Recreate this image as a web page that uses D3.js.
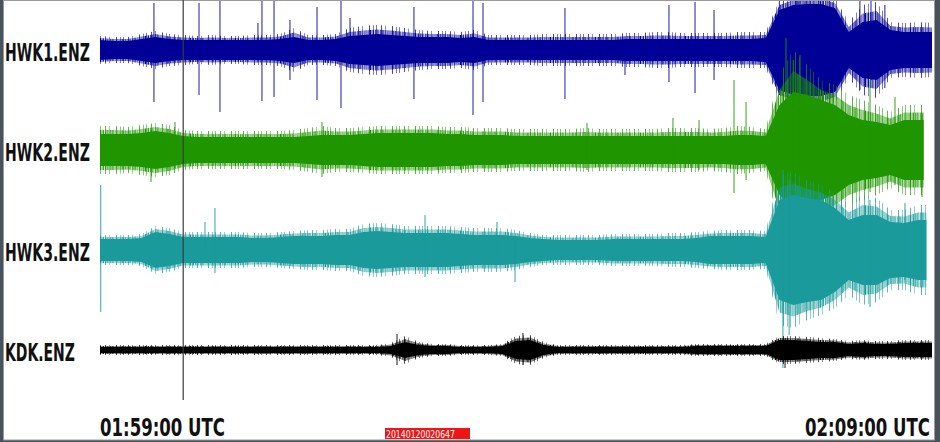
<!DOCTYPE html>
<html>
<head>
<meta charset="utf-8">
<script src="https://cdn.jsdelivr.net/npm/d3@7"></script>
<style>
  html, body { margin: 0; padding: 0; background: #46535c; }
  svg { display: block; }
</style>
</head>
<body>
<svg width="940" height="442"></svg>
<script>
// ---- data (amplitudes are relative units, seconds after 01:59:00 UTC) ----
var stations = ["HWK1.ENZ", "HWK2.ENZ", "HWK3.ENZ", "KDK.ENZ"];
var traceColors = ["#000096", "#1f9600", "#1a9a9a", "#000000"];
var traceEnd = [600, 594, 596, 600];
var timeLabels = ["01:59:00 UTC", "02:09:00 UTC"];
var fileTag = "20140120020647";

// envelope every 10 s: solid core half-width and outer (peak) half-width
var hwk1Core = [10,9,9,11,13,11,10,10,10,10,10,10,10,11,13,10,10,11,14,15,16,15,14,13,13,13,12,13,10,10,10,10,10,10,10,10,10,10,11,11,11,11,11,11,11,11,11,11,12,40,45,46,46,42,18,28,30,20,18,18,18];
var hwk1Peak = [14,13,13,16,19,16,15,14,15,14,14,15,15,16,22,15,15,16,22,24,25,24,22,20,19,19,18,20,15,15,15,15,16,16,16,16,16,16,17,17,18,18,17,17,17,17,18,18,18,50,55,57,57,52,28,45,48,28,27,28,27];
var hwk2Core = [16,16,16,17,19,17,14,13,13,13,13,13,13,13,13,14,15,15,15,16,17,17,17,17,17,16,16,15,15,15,14,14,14,14,14,14,14,14,14,14,14,14,14,14,14,14,15,15,14,45,58,55,50,45,35,30,28,25,30,30,30];
var hwk2Peak = [24,24,23,25,27,25,20,19,19,19,19,19,19,19,20,22,24,22,22,23,24,24,24,24,24,23,23,22,22,22,21,21,21,21,21,22,21,21,21,21,21,22,22,22,21,22,24,23,21,75,100,85,70,65,55,50,45,38,45,45,45];
var hwk3Core = [11,11,11,12,18,16,13,13,13,13,13,12,12,13,14,14,14,15,15,18,19,18,17,17,17,17,16,15,15,15,14,12,11,10,10,10,10,11,11,11,11,11,11,12,14,14,14,14,13,50,55,52,50,42,30,35,35,28,27,30,30];
var hwk3Peak = [15,15,15,16,24,22,18,18,18,18,18,17,17,18,19,20,20,21,21,26,27,26,24,24,24,24,23,22,22,22,20,17,15,15,15,15,15,16,16,16,16,17,17,18,19,20,20,20,19,75,78,70,65,58,45,55,52,40,40,45,45];
var kdkCore = [3,3,3,3,3,3,3,3,3,3,3,3,3,3,3,3,3,3,3,3,3,4,8,5,4,4,3,3,3,4,9,10,5,3,3,3,3,3,3,3,3,3,3,4,4,4,4,4,4,10,10,9,8,8,6,7,6,6,7,7,7];
var kdkPeak = [5,5,5,5,5,5,5,5,5,5,5,5,5,5,5,5,5,5,5,5,5,7,14,8,6,6,5,5,5,6,14,15,8,5,5,5,5,5,5,5,5,5,5,6,6,6,6,6,6,14,14,13,12,11,9,10,9,9,10,10,10];

// isolated spikes: [seconds, up, down]
var hwk1Spikes = [[38.9,47,52],[71.4,47,45],[86.5,50,62],[113.9,27,0],[116.8,49,51],[125.5,49,47],[137,30,30],[156.5,43,50],[173.8,55,58],[180.3,32,0],[226.4,43,49],[269,55,65],[276.2,47,52],[335.3,42,49],[378.6,0,25],[410.3,45,32],[429.1,48,43],[442.8,40,30],[490,55,45],[502,55,50],[548,55,40],[556,55,30],[566,45,38]];
var hwk2Spikes = [[36.8,20,32],[54.1,28,18],[160.1,28,27],[351.2,27,20],[413.2,32,15],[432,30,20],[457.2,70,43],[465.9,48,30],[494.7,112,60],[500,90,50],[504.8,95,55],[555.3,70,42],[573.3,53,35],[592.8,35,47]];
var hwk3Spikes = [[0.5,65,62],[75.7,28,0],[82.9,42,23],[234.4,35,27],[286.3,28,10],[299.3,10,32],[492.5,80,118],[497,70,85],[555.3,50,57],[580.5,47,30]];
var kdkSpikes = [[214.2,16,15],[305,17,15],[494,12,18]];

var coreData = [hwk1Core, hwk2Core, hwk3Core, kdkCore];
var peakData = [hwk1Peak, hwk2Peak, hwk3Peak, kdkPeak];
var spikeData = [hwk1Spikes, hwk2Spikes, hwk3Spikes, kdkSpikes];

// ---- layout ----
var svg = d3.select("svg");
var t0 = new Date(Date.UTC(2014, 0, 20, 1, 59, 0));
var sec = function(s) { return new Date(t0.getTime() + s * 1000); };

var x = d3.scaleUtc().domain([t0, sec(600)]).range([100, 932]);
var rowY = d3.scalePoint().domain(stations).range([50, 350]);
var labelFont = "'DejaVu Sans Condensed', 'DejaVu Sans', sans-serif";

// squeeze a text horizontally so it spans `width` px starting at (x0, y0)
function fitText(sel, x0, y0, width) {
    var natural = sel.node().getComputedTextLength();
    sel.attr("transform", "translate(" + x0 + "," + y0 + ") scale(" + (width / natural) + ",1)");
}

// panel
svg.append("rect")
    .attr("x", 3.5).attr("y", 0.5)
    .attr("width", 931).attr("height", 439.5)
    .attr("fill", "#ffffff")
    .attr("stroke", "#9a9a9a");

var defs = svg.append("defs");
defs.append("clipPath").attr("id", "panel")
  .append("rect").attr("x", 4).attr("y", 1).attr("width", 930).attr("height", 438);

// hairline textures for the fringe, irregular so it reads as noise
var outerHairs = [[0, 0.55], [5, 0.7], [9, 0.45], [16, 0.75], [20, 0.5]];
var innerHairs = [[0, 1], [1.5, 0.8], [3, 1], [5, 0.9], [6.5, 1], [8, 0.7], [10, 1], [11.5, 0.9], [13, 1], [15, 0.8], [17, 1], [19, 0.9], [21, 1]];

function hairPattern(id, color, hairs, width) {
    var pat = defs.append("pattern")
        .attr("id", id)
        .attr("patternUnits", "userSpaceOnUse")
        .attr("x", 100)
        .attr("width", width).attr("height", 10);
    pat.selectAll("rect")
        .data(hairs)
        .enter().append("rect")
        .attr("x", function(d) { return d[0]; })
        .attr("y", 0)
        .attr("width", 1).attr("height", 10)
        .attr("fill", color)
        .attr("fill-opacity", function(d) { return d[1]; });
}

var plot = svg.append("g").attr("clip-path", "url(#panel)");

// draw traces in order (later ones on top)
stations.forEach(function(name, i) {
    var cy = rowY(name);
    var y = d3.scaleLinear().domain([-50, 50]).range([cy + 50, cy - 50]);
    var samples = coreData[i].map(function(c, k) {
        return {t: sec(k * 10), core: c, peak: peakData[i][k]};
    });

    hairPattern("outer" + i, traceColors[i], outerHairs, 23);
    hairPattern("inner" + i, traceColors[i], innerHairs, 22.5);

    defs.append("clipPath").attr("id", "end" + i)
      .append("rect")
        .attr("x", x(sec(0))).attr("y", -200)
        .attr("width", x(sec(traceEnd[i])) - x(sec(0)))
        .attr("height", 900);

    var g = plot.append("g")
        .attr("class", "trace")
        .attr("clip-path", "url(#end" + i + ")");

    function band(f) {
        return d3.area()
            .x(function(d) { return x(d.t); })
            .y0(function(d) { return y(-f(d)); })
            .y1(function(d) { return y(f(d)); });
    }

    g.append("path")
        .datum(samples)
        .attr("d", band(function(d) { return d.peak; }))
        .attr("fill", "url(#outer" + i + ")");

    g.append("path")
        .datum(samples)
        .attr("d", band(function(d) { return (d.core + d.peak) / 2; }))
        .attr("fill", "url(#inner" + i + ")");

    g.append("path")
        .datum(samples)
        .attr("d", band(function(d) { return d.core; }))
        .attr("fill", traceColors[i]);

    g.selectAll("line.spike")
        .data(spikeData[i])
        .enter().append("line")
        .attr("class", "spike")
        .attr("x1", function(d) { return x(sec(d[0])); })
        .attr("x2", function(d) { return x(sec(d[0])); })
        .attr("y1", function(d) { return y(d[1]); })
        .attr("y2", function(d) { return y(-d[2]); })
        .attr("stroke", traceColors[i])
        .attr("stroke-opacity", 0.75)
        .attr("stroke-width", 1.2);

    // station label
    var label = svg.append("text")
        .style("font-family", labelFont)
        .style("font-weight", "bold")
        .style("font-size", "25px")
        .attr("fill", "#111")
        .text(name);
    fitText(label, 5, cy + 11, name.length === 8 ? 85 : 70);
});

// minute marker at 02:00:00
svg.append("line")
    .attr("x1", x(sec(60))).attr("x2", x(sec(60)))
    .attr("y1", 0).attr("y2", 400)
    .attr("stroke", "#3a3a3a")
    .attr("stroke-width", 1.2);

// time labels at both ends of the window
svg.selectAll(".time-label")
    .data(timeLabels)
    .enter().append("text")
    .attr("class", "time-label")
    .style("font-family", labelFont)
    .style("font-weight", "bold")
    .style("font-size", "24px")
    .attr("fill", "#111")
    .text(function(d) { return d; })
    .each(function(d, i) {
        var x0 = i === 0 ? x(sec(0)) : x(sec(600)) - 127;
        fitText(d3.select(this), x0, 436, 125);
    });

// red file tag
svg.append("rect")
    .attr("x", 385).attr("y", 428)
    .attr("width", 85).attr("height", 11)
    .attr("fill", "#f01414");
var tag = svg.append("text")
    .style("font-family", labelFont)
    .style("font-size", "10px")
    .attr("fill", "#ffffff")
    .text(fileTag);
fitText(tag, 386, 437.5, 69);
</script>
</body>
</html>
